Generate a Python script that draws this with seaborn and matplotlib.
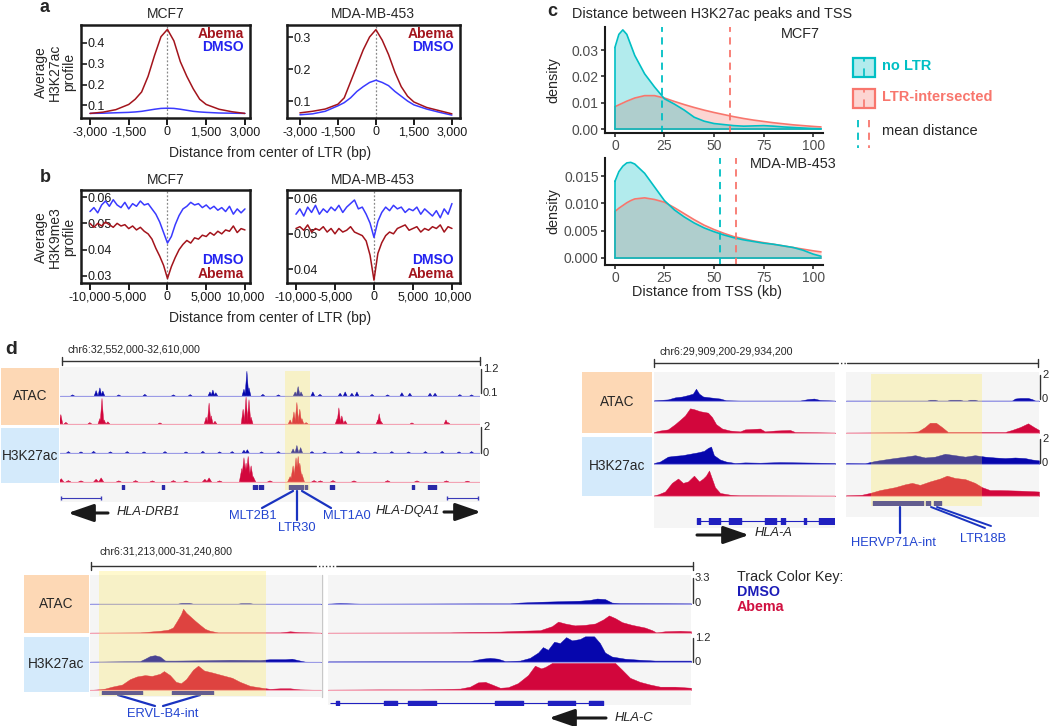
import matplotlib
matplotlib.use('Agg')
import matplotlib.pyplot as plt
import seaborn as sns
from matplotlib.patches import Rectangle

W, H = 1050, 726

# ---------------- panel a: average H3K27ac profile around LTRs ----------------
a_x = [-3000, -2500, -2000, -1500, -1250, -1000, -750, -500, -250, 0,
       250, 500, 750, 1000, 1250, 1500, 2000, 2500, 3000]
a_mcf7_abema = [0.062, 0.068, 0.08, 0.105, 0.13, 0.165, 0.24, 0.34, 0.43, 0.465,
                0.41, 0.31, 0.24, 0.18, 0.13, 0.105, 0.082, 0.07, 0.062]
a_mcf7_dmso = [0.062, 0.063, 0.065, 0.067, 0.069, 0.072, 0.077, 0.082, 0.086, 0.087,
               0.086, 0.082, 0.077, 0.072, 0.069, 0.067, 0.064, 0.063, 0.062]
a_mda_abema = [0.063, 0.068, 0.075, 0.09, 0.11, 0.16, 0.21, 0.26, 0.30, 0.323,
               0.29, 0.245, 0.19, 0.145, 0.115, 0.097, 0.08, 0.07, 0.06]
a_mda_dmso = [0.057, 0.06, 0.068, 0.085, 0.095, 0.11, 0.13, 0.145, 0.158, 0.165,
              0.158, 0.148, 0.13, 0.115, 0.10, 0.088, 0.075, 0.065, 0.056]

# ---------------- panel b: average H3K9me3 profile ----------------
b_x = list(range(-10000, 10001, 500))
b_mcf7_dmso = [0.0545, 0.0560, 0.0540, 0.0570, 0.0585, 0.0565, 0.0590, 0.0570, 0.0560, 0.0580,
               0.0555, 0.0575, 0.0565, 0.0585, 0.0570, 0.0575, 0.0555, 0.0535, 0.0505, 0.0465,
               0.0425,
               0.0450, 0.0495, 0.0530, 0.0555, 0.0565, 0.0580, 0.0570, 0.0575, 0.0560, 0.0570,
               0.0555, 0.0565, 0.0550, 0.0560, 0.0545, 0.0565, 0.0535, 0.0555, 0.0540, 0.0555]
b_mcf7_abema = [0.0500, 0.0485, 0.0500, 0.0490, 0.0505, 0.0495, 0.0485, 0.0500, 0.0490, 0.0495,
                0.0480, 0.0490, 0.0475, 0.0485, 0.0470, 0.0460, 0.0440, 0.0405, 0.0375, 0.0340,
                0.0290,
                0.0335, 0.0370, 0.0400, 0.0420, 0.0435, 0.0425, 0.0445, 0.0440, 0.0455, 0.0450,
                0.0465, 0.0455, 0.0470, 0.0460, 0.0475, 0.0470, 0.0490, 0.0465, 0.0480, 0.0475]
b_mda_dmso = [0.0555, 0.0570, 0.0550, 0.0575, 0.0560, 0.0580, 0.0555, 0.0570, 0.0560, 0.0575,
              0.0565, 0.0580, 0.0560, 0.0575, 0.0585, 0.0595, 0.0570, 0.0575, 0.0555, 0.0530,
              0.0490,
              0.0535, 0.0560, 0.0575, 0.0565, 0.0580, 0.0570, 0.0575, 0.0560, 0.0570, 0.0565,
              0.0575, 0.0555, 0.0570, 0.0560, 0.0550, 0.0565, 0.0545, 0.0570, 0.0555, 0.0585]
b_mda_abema = [0.0515, 0.0520, 0.0510, 0.0525, 0.0505, 0.0515, 0.0510, 0.0520, 0.0505, 0.0515,
               0.0500, 0.0515, 0.0505, 0.0510, 0.0520, 0.0505, 0.0500, 0.0495, 0.0480, 0.0440,
               0.0370,
               0.0445, 0.0475, 0.0495, 0.0505, 0.0500, 0.0515, 0.0520, 0.0525, 0.0510, 0.0515,
               0.0520, 0.0505, 0.0515, 0.0510, 0.0520, 0.0515, 0.0525, 0.0505, 0.0520, 0.0515]

# ---------------- panel c: distance to TSS densities ----------------
c_x = [0, 2, 4, 6, 8, 10, 15, 20, 25, 30, 35, 40, 45, 50, 55, 60, 65, 70, 75, 80, 85, 90, 95, 100, 104]
c_mcf7_noltr = [0.031, 0.036, 0.0377, 0.036, 0.032, 0.028, 0.021, 0.016, 0.0115, 0.0095, 0.0072, 0.0045,
                0.003, 0.0021, 0.0017, 0.0013, 0.0011, 0.0012, 0.0013, 0.0011, 0.0008, 0.0006, 0.0004,
                0.0002, 0.0001]
c_mcf7_ltr = [0.0085, 0.0092, 0.0099, 0.0106, 0.0112, 0.0118, 0.0127, 0.0127, 0.0118, 0.0105, 0.0093,
              0.0082, 0.0072, 0.0063, 0.0055, 0.0047, 0.004, 0.0034, 0.0029, 0.0024, 0.002, 0.0016,
              0.0013, 0.001, 0.0008]
c_mda_noltr = [0.014, 0.0158, 0.0168, 0.0174, 0.0175, 0.0172, 0.0155, 0.013, 0.0105, 0.0088, 0.0075,
               0.0064, 0.0055, 0.0048, 0.0042, 0.0037, 0.0033, 0.003, 0.0027, 0.0025, 0.0022, 0.0019,
               0.0014, 0.0007, 0.0003]
c_mda_ltr = [0.0085, 0.0091, 0.0096, 0.0101, 0.0105, 0.0108, 0.011, 0.0107, 0.0102, 0.0092, 0.0081,
             0.007, 0.006, 0.0052, 0.0045, 0.0039, 0.0035, 0.0031, 0.0028, 0.0025, 0.0022, 0.0019,
             0.0016, 0.0013, 0.0011]
c_mcf7_means = [23.7, 58]
c_mda_means = [53, 61]

# ---------------- panel d: genome browser tracks (x in % of panel width) ----------------
# top-left locus (spiky signals: peak position and height)
tl_atac_dmso_pos = [3, 8.6, 9.5, 10.2, 14, 20.2, 27, 31, 35.7, 36.4, 37.1, 43.8, 44.5, 45.0, 48.3, 52,
                    56.0, 56.7, 57.4, 60.2, 61.9, 66.7, 67.9, 69.5, 70.7, 74.3, 78, 81.4, 83.3, 88.1,
                    89.3, 95.2, 98]
tl_atac_dmso_h = [0.04, 0.2, 0.3, 0.18, 0.04, 0.06, 0.04, 0.05, 0.15, 0.22, 0.12, 0.25, 0.92, 0.3, 0.06,
                  0.04, 0.15, 0.35, 0.15, 0.15, 0.06, 0.1, 0.15, 0.1, 0.15, 0.06, 0.04, 0.12, 0.1, 0.1,
                  0.1, 0.05, 0.04]
tl_atac_abema_pos = [0.2, 1.4, 7.1, 9.5, 10.0, 10.5, 11.4, 23.8, 34.8, 35.5, 36.0, 36.9, 43.6, 44.3, 45.0,
                     45.5, 54.8, 55.7, 56.4, 57.1, 57.6, 58.6, 66.0, 66.4, 67.1, 67.9, 75.7, 76.0, 76.4,
                     83.8, 91.9, 92.4]
tl_atac_abema_h = [0.35, 0.06, 0.05, 0.2, 0.95, 0.15, 0.08, 0.04, 0.25, 0.78, 0.3, 0.1, 0.55, 1.0, 0.9,
                   0.25, 0.15, 0.45, 0.8, 0.55, 0.2, 0.05, 0.2, 0.6, 0.3, 0.12, 0.15, 0.38, 0.1, 0.04,
                   0.15, 0.05]
tl_k27_dmso_pos = [2, 5, 8, 12, 16, 20, 25, 30, 34, 38, 41, 43.8, 44.6, 48, 52, 55.5, 56.4, 57.3, 60, 63,
                   67, 71, 75, 79, 83, 87, 91, 95, 98]
tl_k27_dmso_h = [0.05, 0.04, 0.06, 0.04, 0.05, 0.04, 0.05, 0.04, 0.06, 0.04, 0.05, 0.1, 0.12, 0.04, 0.05,
                 0.15, 0.28, 0.2, 0.05, 0.04, 0.05, 0.06, 0.04, 0.05, 0.04, 0.05, 0.06, 0.04, 0.05]
tl_k27_abema_pos = [0.3, 2, 5, 8.6, 9.8, 14, 18, 22, 27, 30, 34.5, 35.5, 38, 43.3, 43.8, 44.3, 44.8, 45.5,
                    46.0, 50, 54.8, 55.5, 56.2, 56.7, 57.1, 57.6, 60.5, 62, 65, 70, 78, 85, 92, 97]
tl_k27_abema_h = [0.12, 0.05, 0.04, 0.1, 0.15, 0.04, 0.05, 0.04, 0.05, 0.04, 0.1, 0.15, 0.04, 0.5, 0.9,
                  0.7, 0.95, 0.6, 0.2, 0.04, 0.2, 0.6, 0.9, 0.95, 0.7, 0.3, 0.05, 0.04, 0.05, 0.04,
                  0.05, 0.04, 0.04, 0.03]
tl_repeats = [(14.8, 15.2), (24.3, 24.8), (46.0, 46.9), (47.4, 48.3), (54.5, 57.9), (58.3, 58.8),
              (64.3, 65.2), (83.8, 84.3), (87.6, 89.5)]
tl_genes = [(0.2, 9.8), (92.1, 99.5)]

# top-right locus (HLA-A), left and right windows
tr_l_atac_dmso_x = [0, 7.7, 11.6, 15.5, 18.8, 21.5, 23.2, 24.9, 27.1, 30.9, 36.5, 39.8, 47.5, 80.7, 85, 88.4, 91.7, 100]
tr_l_atac_dmso_h = [0.02, 0.05, 0.12, 0.15, 0.2, 0.25, 0.42, 0.25, 0.15, 0.12, 0.08, 0.02, 0.01, 0.01, 0.06, 0.08, 0.03, 0.01]
tr_l_atac_abema_x = [0, 3.3, 7.7, 11.6, 14.4, 17.1, 19.9, 22.1, 25.4, 29.8, 32, 34.3, 37.6, 42, 47.5, 50.3,
                     58.6, 61.3, 66.9, 75.1, 77.9, 100]
tr_l_atac_abema_h = [0.03, 0.08, 0.12, 0.3, 0.45, 0.6, 0.85, 0.82, 0.75, 0.7, 0.55, 0.3, 0.15, 0.08, 0.05, 0.12,
                     0.15, 0.05, 0.08, 0.1, 0.03, 0.01]
tr_l_k27_dmso_x = [0, 3.3, 7.7, 11.6, 15.5, 19.9, 24.3, 27.6, 29.8, 31.5, 33.1, 36.5, 39.8, 44.8, 50.3, 58.6,
                   69.6, 80.7, 91.7, 100]
tr_l_k27_dmso_h = [0.03, 0.08, 0.25, 0.28, 0.3, 0.35, 0.4, 0.45, 0.55, 0.6, 0.3, 0.15, 0.08, 0.03, 0.05, 0.04,
                   0.06, 0.05, 0.04, 0.03]
tr_l_k27_abema_x = [0, 2.2, 6.1, 9.9, 13.3, 16, 18.8, 22.1, 24.9, 27.1, 28.7, 30.4, 32, 33.7, 36.5, 42, 47.5, 100]
tr_l_k27_abema_h = [0.02, 0.05, 0.15, 0.45, 0.6, 0.45, 0.5, 0.7, 0.5, 0.6, 0.7, 0.88, 0.6, 0.3, 0.1, 0.04, 0.02, 0.01]
tr_r_atac_dmso_x = [0, 42, 43.5, 46.1, 47.5, 52.5, 53.9, 59.1, 60.5, 62.8, 64.2, 66.8, 68.2, 86, 87.6, 90.2,
                    94.3, 96.4, 98, 100]
tr_r_atac_dmso_h = [0.01, 0.01, 0.04, 0.04, 0.01, 0.01, 0.04, 0.04, 0.01, 0.01, 0.04, 0.04, 0.01, 0.01, 0.08,
                    0.1, 0.1, 0.06, 0.01, 0.01]
tr_r_atac_abema_x = [0, 30.6, 37.3, 40.9, 43.5, 46.6, 49.7, 52.8, 82.4, 86, 90.2, 94.3, 97.4, 100]
tr_r_atac_abema_h = [0.01, 0.02, 0.05, 0.2, 0.35, 0.35, 0.2, 0.03, 0.03, 0.1, 0.2, 0.33, 0.2, 0.1]
tr_r_k27_dmso_x = [0, 9.8, 15, 22.8, 30.6, 35.8, 40.9, 46.1, 51.3, 56.5, 61.7, 66.8, 72, 77.2, 82.4, 87.6,
                   92.7, 96.4, 100]
tr_r_k27_dmso_h = [0.03, 0.02, 0.1, 0.18, 0.25, 0.3, 0.22, 0.25, 0.35, 0.3, 0.25, 0.3, 0.25, 0.22, 0.2, 0.22,
                   0.2, 0.15, 0.12]
tr_r_k27_abema_x = [0, 8.3, 12.4, 17.6, 25.4, 30.6, 34.2, 38.3, 43.5, 48.7, 52.3, 56.5, 61.7, 66.8, 70.5,
                    74.6, 79.8, 90.2, 100]
tr_r_k27_abema_h = [0.02, 0.04, 0.1, 0.2, 0.3, 0.4, 0.45, 0.38, 0.5, 0.6, 0.7, 0.62, 0.58, 0.45, 0.3, 0.2,
                    0.2, 0.18, 0.15]
tr_repeats = [(14.0, 39.9), (41.5, 43.5), (45.6, 49.2)]
tr_gene_span = (23.8, 100)
tr_exons = [(23.8, 25.4), (30.4, 36.5), (41.4, 48.1), (61.3, 67.4), (70.2, 72.4), (82.9, 84.0),
            (91.2, 92.3), (92.8, 100)]

# bottom locus (HLA-C), left and right windows
bl_atac_dmso_x = [0, 38, 39.5, 43, 44.5, 64, 65.5, 69, 70.5, 100]
bl_atac_dmso_h = [0.01, 0.01, 0.04, 0.04, 0.01, 0.01, 0.03, 0.03, 0.01, 0.01]
bl_atac_abema_x = [0, 21.6, 26, 30.3, 33.8, 35.9, 37.7, 39.4, 40.3, 41.6, 43.3, 45.5, 47.6, 49.8, 51.9,
                   55.4, 82.3, 86.6, 90.9, 100]
bl_atac_abema_h = [0.01, 0.02, 0.05, 0.08, 0.12, 0.2, 0.45, 0.7, 0.9, 0.75, 0.62, 0.45, 0.3, 0.15, 0.08,
                   0.02, 0.02, 0.06, 0.03, 0.01]
bl_k27_dmso_x = [0, 21.6, 23.8, 26, 28.1, 30.3, 32.5, 36.8, 47.6, 60.6, 73.6, 77.9, 84.4, 87.4, 90.9, 93.1, 100]
bl_k27_dmso_h = [0.01, 0.03, 0.12, 0.22, 0.25, 0.2, 0.05, 0.05, 0.06, 0.08, 0.07, 0.1, 0.1, 0.12, 0.05, 0.01, 0.0]
bl_k27_abema_x = [0, 3.5, 6.5, 9.5, 13.9, 17.3, 20.3, 23.8, 26.8, 30.3, 32, 34.6, 37.2, 39.4, 41.6, 44.6,
                  46.8, 49.4, 52.8, 57.1, 61.5, 64.9, 69.3, 74.5, 77.9, 82.3, 86.6, 90.9, 100]
bl_k27_abema_h = [0.0, 0.02, 0.05, 0.12, 0.2, 0.4, 0.5, 0.55, 0.52, 0.6, 0.7, 0.55, 0.3, 0.25, 0.4, 0.75,
                  0.9, 0.72, 0.65, 0.55, 0.45, 0.3, 0.15, 0.08, 0.04, 0.06, 0.06, 0.02, 0.0]
bl_repeats = [(5.2, 22.5), (35.5, 53.2)]
br_atac_dmso_x = [0, 3.3, 8.8, 41.9, 50.1, 52.9, 58.4, 63.9, 69.4, 72.2, 74.1, 76.3, 78.2, 80.4, 100]
br_atac_dmso_h = [0.01, 0.03, 0.01, 0.02, 0.02, 0.05, 0.08, 0.1, 0.12, 0.15, 0.2, 0.18, 0.05, 0.03, 0.02]
br_atac_abema_x = [0, 33.6, 39.1, 47.4, 52.9, 58.4, 61.7, 63.4, 65.3, 68, 70.8, 73.6, 75.8, 77.4, 79.1, 81,
                   83.7, 87.3, 89.3, 90.4, 92.8, 97, 100]
br_atac_abema_h = [0.01, 0.02, 0.04, 0.05, 0.08, 0.1, 0.25, 0.42, 0.35, 0.28, 0.3, 0.35, 0.5, 0.65, 0.55,
                   0.4, 0.3, 0.2, 0.1, 0.02, 0.06, 0.08, 0.06]
br_k27_dmso_x = [0, 39.1, 42.4, 44.6, 46.8, 48.8, 52.9, 55.6, 57.9, 59.2, 60.6, 62.3, 63.9, 65.6, 67.2,
                 69.4, 70.8, 73.3, 74.9, 76.3, 78.2, 81.8, 85.9, 90.1, 100]
br_k27_dmso_h = [0.02, 0.03, 0.12, 0.15, 0.12, 0.03, 0.05, 0.15, 0.35, 0.55, 0.45, 0.75, 0.7, 0.92, 0.8,
                 0.85, 0.95, 0.95, 0.7, 0.35, 0.2, 0.12, 0.08, 0.05, 0.05]
br_k27_abema_x = [0, 14.3, 25.3, 36.4, 39.1, 41.3, 43.3, 45.2, 47.4, 49.6, 52.3, 55.1, 57, 58.7, 59.8,
                  61.7, 79.1, 81, 83.2, 85.9, 88.7, 91.5, 95.6, 100]
br_k27_abema_h = [0.01, 0.02, 0.02, 0.05, 0.12, 0.28, 0.3, 0.2, 0.08, 0.1, 0.25, 0.55, 0.9, 0.8, 0.85,
                  1.0, 1.0, 0.75, 0.45, 0.3, 0.2, 0.12, 0.12, 0.08]
br_gene_span = (0.6, 75.8)
br_exons = [(2.2, 3.0), (15.4, 19.0), (22.0, 29.8), (46.0, 53.7), (60.6, 68.0), (71.9, 75.8)]

# colours
ABEMA_LINE = '#a3141c'
DMSO_LINE = '#3a3aff'
TEAL = '#00BFC4'
SALMON = '#F8766D'
TR_DMSO = '#0606ad'
TR_ABEMA = '#d2063c'
REP_BLUE = '#2a2aa8'
LAB_BLUE = '#2345d0'

sns.set_theme(style='white')
plt.rcParams['font.family'] = ['Liberation Sans', 'DejaVu Sans']


def rect(l, t, r, b):
    return [l / W, 1 - b / H, (r - l) / W, (b - t) / H]


fig = plt.figure(figsize=(W / 100, H / 100), dpi=100)
bg = fig.add_axes([0, 0, 1, 1])
bg.set_xlim(0, W)
bg.set_ylim(H, 0)
bg.axis('off')


def txt(x, y, s, **kw):
    kw.setdefault('ha', 'left')
    kw.setdefault('va', 'center')
    kw.setdefault('fontsize', 9.5)
    bg.text(x, y, s, **kw)


def profile_ax(box, xlim, ylim, xticks, yticks, ylabs, series):
    ax = fig.add_axes(rect(*box))
    ax.patch.set_alpha(0)
    ax.axvline(0, color='#888888', ls=(0, (1.5, 1.5)), lw=0.9, zorder=0)
    for xs, ys, col in series:
        sns.lineplot(x=xs, y=ys, ax=ax, color=col, lw=1.1)
    ax.set_xlim(xlim)
    ax.set_ylim(ylim)
    ax.set_xticks(xticks)
    ax.set_xticklabels([f'{v:,}' for v in xticks])
    ax.set_yticks(yticks)
    ax.set_yticklabels(ylabs)
    ax.tick_params(axis='x', direction='out', length=5, width=1.4, labelsize=9, pad=1,
                   bottom=True, colors='k')
    ax.tick_params(axis='y', direction='in', length=4, width=1.2, labelsize=9, pad=-4.5,
                   left=True, colors='k')
    for t in ax.get_yticklabels():
        t.set_ha('left')
    for s in ax.spines.values():
        s.set_linewidth(1.8)
        s.set_color('k')
    ax.set_xlabel('')
    ax.set_ylabel('')
    return ax


# ---- panel a
profile_ax((81, 25, 250, 118), (-3350, 3200), (0.04, 0.486), [-3000, -1500, 0, 1500, 3000],
           [0.1, 0.2, 0.3, 0.4], ['0.1', '0.2', '0.3', '0.4'],
           [(a_x, a_mcf7_dmso, DMSO_LINE), (a_x, a_mcf7_abema, ABEMA_LINE)])
profile_ax((287, 25, 460, 118), (-3510, 3320), (0.047, 0.3375), [-3000, -1500, 0, 1500, 3000],
           [0.1, 0.2, 0.3], ['0.1', '0.2', '0.3'],
           [(a_x, a_mda_dmso, DMSO_LINE), (a_x, a_mda_abema, ABEMA_LINE)])
# ---- panel b
profile_ax((81, 190, 250, 283), (-11160, 10650), (0.0273, 0.0627), [-10000, -5000, 0, 5000, 10000],
           [0.03, 0.04, 0.05, 0.06], ['0.03', '0.04', '0.05', '0.06'],
           [(b_x, b_mcf7_dmso, DMSO_LINE), (b_x, b_mcf7_abema, ABEMA_LINE)])
profile_ax((287, 190, 460, 283), (-11150, 11030), (0.0362, 0.0623), [-10000, -5000, 0, 5000, 10000],
           [0.04, 0.05, 0.06], ['0.04', '0.05', '0.06'],
           [(b_x, b_mda_dmso, DMSO_LINE), (b_x, b_mda_abema, ABEMA_LINE)])

txt(40, 8, 'a', fontsize=13, fontweight='bold')
txt(40, 178, 'b', fontsize=13, fontweight='bold')
for x, y, s in [(166, 14, 'MCF7'), (373, 14, 'MDA-MB-453'), (166, 180, 'MCF7'), (373, 180, 'MDA-MB-453')]:
    txt(x, y, s, ha='center', fontsize=10)
for xr in (244, 454):
    txt(xr, 34, 'Abema', ha='right', fontsize=10, fontweight='bold', color='#a3141c')
    txt(xr, 47, 'DMSO', ha='right', fontsize=10, fontweight='bold', color='#2323f0')
    txt(xr, 260, 'DMSO', ha='right', fontsize=10, fontweight='bold', color='#2323f0')
    txt(xr, 274, 'Abema', ha='right', fontsize=10, fontweight='bold', color='#a3141c')
txt(55, 72, 'Average\nH3K27ac\nprofile', ha='center', rotation=90, fontsize=10, linespacing=1.0)
txt(55, 237, 'Average\nH3K9me3\nprofile', ha='center', rotation=90, fontsize=10, linespacing=1.0)
txt(270, 153, 'Distance from center of LTR (bp)', ha='center', fontsize=10)
txt(270, 318, 'Distance from center of LTR (bp)', ha='center', fontsize=10)


# ---- panel c
def density_ax(box, ylim, yticks, ylabs, noltr, ltr, means):
    ax = fig.add_axes(rect(*box))
    ax.patch.set_alpha(0)
    for ys, col in [(ltr, SALMON), (noltr, TEAL)]:
        ax.fill_between(c_x, 0, ys, color=col, alpha=0.3, lw=0)
        sns.lineplot(x=c_x, y=ys, ax=ax, color=col, lw=1.2)
        ax.plot([c_x[0], c_x[0]], [0, ys[0]], color=col, lw=1.2)
        ax.plot([c_x[0], c_x[-1]], [0, 0], color=col, lw=1.2)
    for m, col in zip(means, [TEAL, SALMON]):
        ax.axvline(m, color=col, ls=(0, (4, 3)), lw=1.3)
    ax.set_xlim(-5, 105)
    ax.set_ylim(ylim)
    ax.set_xticks([0, 25, 50, 75, 100])
    ax.set_yticks(yticks)
    ax.set_yticklabels(ylabs)
    ax.tick_params(direction='out', length=3, width=1.1, labelsize=10, labelcolor='#4d4d4d',
                   pad=1.5, bottom=True, left=True, color='k')
    for side in ('top', 'right'):
        ax.spines[side].set_visible(False)
    for side in ('left', 'bottom'):
        ax.spines[side].set_linewidth(1.5)
        ax.spines[side].set_color('k')
    ax.set_xlabel('')
    ax.set_ylabel('')
    return ax


density_ax((605, 27, 823, 133), (-0.0015, 0.0388), [0, 0.01, 0.02, 0.03],
           ['0.00', '0.01', '0.02', '0.03'], c_mcf7_noltr, c_mcf7_ltr, c_mcf7_means)
density_ax((605, 158, 823, 265), (-0.0013, 0.0183), [0, 0.005, 0.01, 0.015],
           ['0.000', '0.005', '0.010', '0.015'], c_mda_noltr, c_mda_ltr, c_mda_means)
txt(547, 12, 'c', fontsize=13, fontweight='bold')
txt(572, 14, 'Distance between H3K27ac peaks and TSS', fontsize=10.4)
txt(800, 34, 'MCF7', ha='center', fontsize=10.4)
txt(793, 164, 'MDA-MB-453', ha='center', fontsize=10.4)
txt(553, 80, 'density', ha='center', rotation=90, fontsize=10.4)
txt(553, 211, 'density', ha='center', rotation=90, fontsize=10.4)
txt(707, 292, 'Distance from TSS (kb)', ha='center', fontsize=10.4)
# legend
for y0, col, lab in [(58, TEAL, 'no LTR'), (89, SALMON, 'LTR-intersected')]:
    bg.add_patch(Rectangle((853, y0), 22, 19, facecolor=col, alpha=0.3, lw=0))
    bg.add_patch(Rectangle((853, y0), 22, 19, facecolor='none', edgecolor=col, lw=1.6))
    bg.plot([864, 864], [y0, y0 + 3], color=col, lw=1.2)
    bg.plot([864, 864], [y0 + 11, y0 + 19], color=col, lw=1.2)
    txt(882, y0 + 8, lab, fontsize=10.5, fontweight='bold', color=col)
bg.plot([858, 858], [120, 148], color=TEAL, lw=1.3, ls=(0, (4, 3)))
bg.plot([869, 869], [120, 148], color=SALMON, lw=1.3, ls=(0, (4, 3)))
txt(882, 131, 'mean distance', fontsize=10.5)


# ---- panel d
def track(l, r, base, band, color, base_col, xs=None, hs=None, pos=None, ph=None, hw=0.45):
    ax = fig.add_axes(rect(l, base - band, r, base + 1))
    ax.axis('off')
    ax.set_xlim(0, 100)
    ax.set_ylim(-0.04, 1)
    ax.axhline(0, color=base_col, lw=0.9)
    if xs is not None:
        ax.fill_between(xs, 0, hs, color=color, lw=0.3)
    if pos is not None:
        for p, h in zip(pos, ph):
            ax.fill([p - hw, p, p + hw], [0, h, 0], color=color, lw=0.3)
    return ax


def feature_row(l, r, y, blocks, color, span=None, hgt=6):
    ax = fig.add_axes(rect(l, y - hgt / 2, r, y + hgt / 2))
    ax.axis('off')
    ax.set_xlim(0, 100)
    ax.set_ylim(0, 1)
    if span is not None:
        ax.hlines(0.5, span[0], span[1], color=color, lw=0.8)
    ax.broken_barh([(s, e - s) for s, e in blocks], (0.1, 0.8), color=color)
    return ax


def label_box(l, t, r, b, s, col):
    bg.add_patch(Rectangle((l, t), r - l, b - t, color=col, lw=0))
    txt((l + r) / 2, (t + b) / 2, s, ha='center', fontsize=9.8)


def scale_bar(y, segs, dots=None):
    for a, b in segs:
        bg.plot([a, b], [y, y], color='#333333', lw=1.0)
    if dots:
        bg.plot(dots, [y, y], color='#333333', lw=1.0, ls=(0, (1, 1.5)))
    for x in (segs[0][0], segs[-1][1]):
        bg.plot([x, x], [y - 4, y + 4], color='#333333', lw=1.0)


def axis_scale(x, spans):
    for top, bot, lt, lb in spans:
        bg.plot([x, x], [top, bot], color='#333333', lw=1.0)
        txt(x + 2, top, lt, fontsize=8)
        txt(x + 2, bot, lb, fontsize=8)


PANEL_BG = '#f5f5f5'
ATAC_BOX = '#fdd8b5'
K27_BOX = '#d4eafb'
DMSO_BASE = '#9b9be6'
ABEMA_BASE = '#f3a3b4'

txt(5, 349, 'd', fontsize=14, fontweight='bold')

# top-left locus
bg.add_patch(Rectangle((60, 367), 420, 135, color=PANEL_BG, lw=0))
label_box(1, 368, 59, 425, 'ATAC', ATAC_BOX)
label_box(1, 428, 59, 483, 'H3K27ac', K27_BOX)
txt(67, 350, 'chr6:32,552,000-32,610,000', fontsize=7.7)
scale_bar(361, [(62, 480)])
axis_scale(481, [(369, 393, '1.2', '0.1'), (427, 453, '2', '0')])
track(60, 480, 396, 27, TR_DMSO, DMSO_BASE, pos=tl_atac_dmso_pos, ph=tl_atac_dmso_h)
track(60, 480, 424, 27, TR_ABEMA, ABEMA_BASE, pos=tl_atac_abema_pos, ph=tl_atac_abema_h)
track(60, 480, 453, 27, TR_DMSO, DMSO_BASE, pos=tl_k27_dmso_pos, ph=tl_k27_dmso_h)
track(60, 480, 482, 27, TR_ABEMA, ABEMA_BASE, pos=tl_k27_abema_pos, ph=tl_k27_abema_h, hw=0.6)
feature_row(60, 480, 487, tl_repeats, REP_BLUE, hgt=5)
gax = feature_row(60, 480, 498, [], '#3a3ab8', hgt=6)
for s, e in tl_genes:
    gax.hlines(0.5, s, e, color='#3a3ab8', lw=0.8)
    gax.vlines([s, e], 0.1, 0.9, color='#3a3ab8', lw=1.0)
for (x0, y0, x1, y1) in [(293, 491, 262, 508), (297, 491, 297, 520), (302, 491, 331, 508)]:
    bg.plot([x0, x1], [y0, y1], color='#1a33c0', lw=1.6)
txt(253, 516, 'MLT2B1', ha='center', color=LAB_BLUE, fontsize=9.3)
txt(297, 528, 'LTR30', ha='center', color=LAB_BLUE, fontsize=9.3)
txt(347, 516, 'MLT1A0', ha='center', color=LAB_BLUE, fontsize=9.3)
txt(117, 512, 'HLA-DRB1', fontsize=9.3, style='italic')
txt(440, 511, 'HLA-DQA1', ha='right', fontsize=9.3, style='italic')
arrow = dict(arrowstyle='-|>,head_length=1.3,head_width=0.45', color='k', lw=2.2, shrinkA=0, shrinkB=0)
bg.annotate('', xy=(68, 513), xytext=(108, 513), arrowprops=arrow)
bg.annotate('', xy=(481, 512), xytext=(444, 512), arrowprops=arrow)

# top-right locus
bg.add_patch(Rectangle((654, 372), 181, 156, color=PANEL_BG, lw=0))
bg.add_patch(Rectangle((846, 372), 193, 145, color=PANEL_BG, lw=0))
label_box(582, 372, 652, 433, 'ATAC', ATAC_BOX)
label_box(582, 437, 652, 496, 'H3K27ac', K27_BOX)
txt(660, 352, 'chr6:29,909,200-29,934,200', fontsize=7.7)
scale_bar(363, [(654, 837), (847, 1038)], dots=[837, 847])
axis_scale(1040, [(375, 399, '2', '0'), (439, 463, '2', '0')])
for l, r, sets in [(654, 835, [(tr_l_atac_dmso_x, tr_l_atac_dmso_h), (tr_l_atac_abema_x, tr_l_atac_abema_h),
                               (tr_l_k27_dmso_x, tr_l_k27_dmso_h), (tr_l_k27_abema_x, tr_l_k27_abema_h)]),
                   (846, 1039, [(tr_r_atac_dmso_x, tr_r_atac_dmso_h), (tr_r_atac_abema_x, tr_r_atac_abema_h),
                                (tr_r_k27_dmso_x, tr_r_k27_dmso_h), (tr_r_k27_abema_x, tr_r_k27_abema_h)])]:
    for (xs, hs), base, col, bcol in zip(sets, [401, 433, 464, 496],
                                         [TR_DMSO, TR_ABEMA, TR_DMSO, TR_ABEMA],
                                         [DMSO_BASE, ABEMA_BASE, DMSO_BASE, ABEMA_BASE]):
        track(l, r, base, 29, col, bcol, xs=xs, hs=hs)
feature_row(846, 1039, 503, tr_repeats, REP_BLUE, hgt=5)
feature_row(654, 835, 521, tr_exons, '#2020c0', span=tr_gene_span, hgt=7)
bg.plot([900, 900], [507, 533], color='#1a33c0', lw=1.6)
bg.plot([931, 985], [507, 528], color='#1a33c0', lw=1.4)
bg.plot([937, 991], [507, 526], color='#1a33c0', lw=1.4)
txt(893, 543, 'HERVP71A-int', ha='center', color=LAB_BLUE, fontsize=9.3)
txt(983, 539, 'LTR18B', ha='center', color=LAB_BLUE, fontsize=9.3)
bg.annotate('', xy=(749, 535), xytext=(697, 535), arrowprops=arrow)
txt(755, 533, 'HLA-A', fontsize=9.3, style='italic')

# bottom locus
bg.add_patch(Rectangle((90, 575), 231, 122, color=PANEL_BG, lw=0))
bg.add_patch(Rectangle((328, 575), 363, 130, color=PANEL_BG, lw=0))
bg.plot([322, 322], [575, 697], color='#c8c8c8', lw=1.0)
label_box(24, 575, 89, 633, 'ATAC', ATAC_BOX)
label_box(24, 637, 89, 692, 'H3K27ac', K27_BOX)
txt(100, 552, 'chr6:31,213,000-31,240,800', fontsize=7.7)
scale_bar(566, [(91, 315), (337, 693)], dots=[315, 337])
axis_scale(693, [(578, 603, '3.3', '0'), (638, 662, '1.2', '0')])
for l, r, sets in [(90, 321, [(bl_atac_dmso_x, bl_atac_dmso_h), (bl_atac_abema_x, bl_atac_abema_h),
                              (bl_k27_dmso_x, bl_k27_dmso_h), (bl_k27_abema_x, bl_k27_abema_h)]),
                   (328, 691, [(br_atac_dmso_x, br_atac_dmso_h), (br_atac_abema_x, br_atac_abema_h),
                               (br_k27_dmso_x, br_k27_dmso_h), (br_k27_abema_x, br_k27_abema_h)])]:
    for (xs, hs), base, col, bcol in zip(sets, [604, 633, 662, 690],
                                         [TR_DMSO, TR_ABEMA, TR_DMSO, TR_ABEMA],
                                         [DMSO_BASE, ABEMA_BASE, DMSO_BASE, ABEMA_BASE]):
        track(l, r, base, 27, col, bcol, xs=xs, hs=hs)
feature_row(90, 321, 693, bl_repeats, REP_BLUE, hgt=4)
feature_row(328, 691, 703, br_exons, '#2020c0', span=br_gene_span, hgt=6)
bg.plot([118, 155], [695, 706], color='#1a33c0', lw=1.6)
bg.plot([200, 163], [695, 706], color='#1a33c0', lw=1.6)
txt(163, 714, 'ERVL-B4-int', ha='center', color=LAB_BLUE, fontsize=9.3)
bg.annotate('', xy=(549, 718), xytext=(606, 718), arrowprops=arrow)
txt(615, 718, 'HLA-C', fontsize=9.3, style='italic')

txt(737, 577, 'Track Color Key:', fontsize=10.3)
txt(737, 592, 'DMSO', fontsize=10.3, fontweight='bold', color='#1c1cb8')
txt(737, 607, 'Abema', fontsize=10.3, fontweight='bold', color='#d01040')

# highlighted regions drawn on top
fg = fig.add_axes([0, 0, 1, 1])
fg.set_xlim(0, W)
fg.set_ylim(H, 0)
fg.axis('off')
for (l, t, r, b) in [(285, 371, 310, 490), (871, 374, 982, 506), (99, 571, 266, 696)]:
    fg.add_patch(Rectangle((l, t), r - l, b - t, color='#ffe94d', alpha=0.27, lw=0))

fig.savefig('out.png', dpi=100)
